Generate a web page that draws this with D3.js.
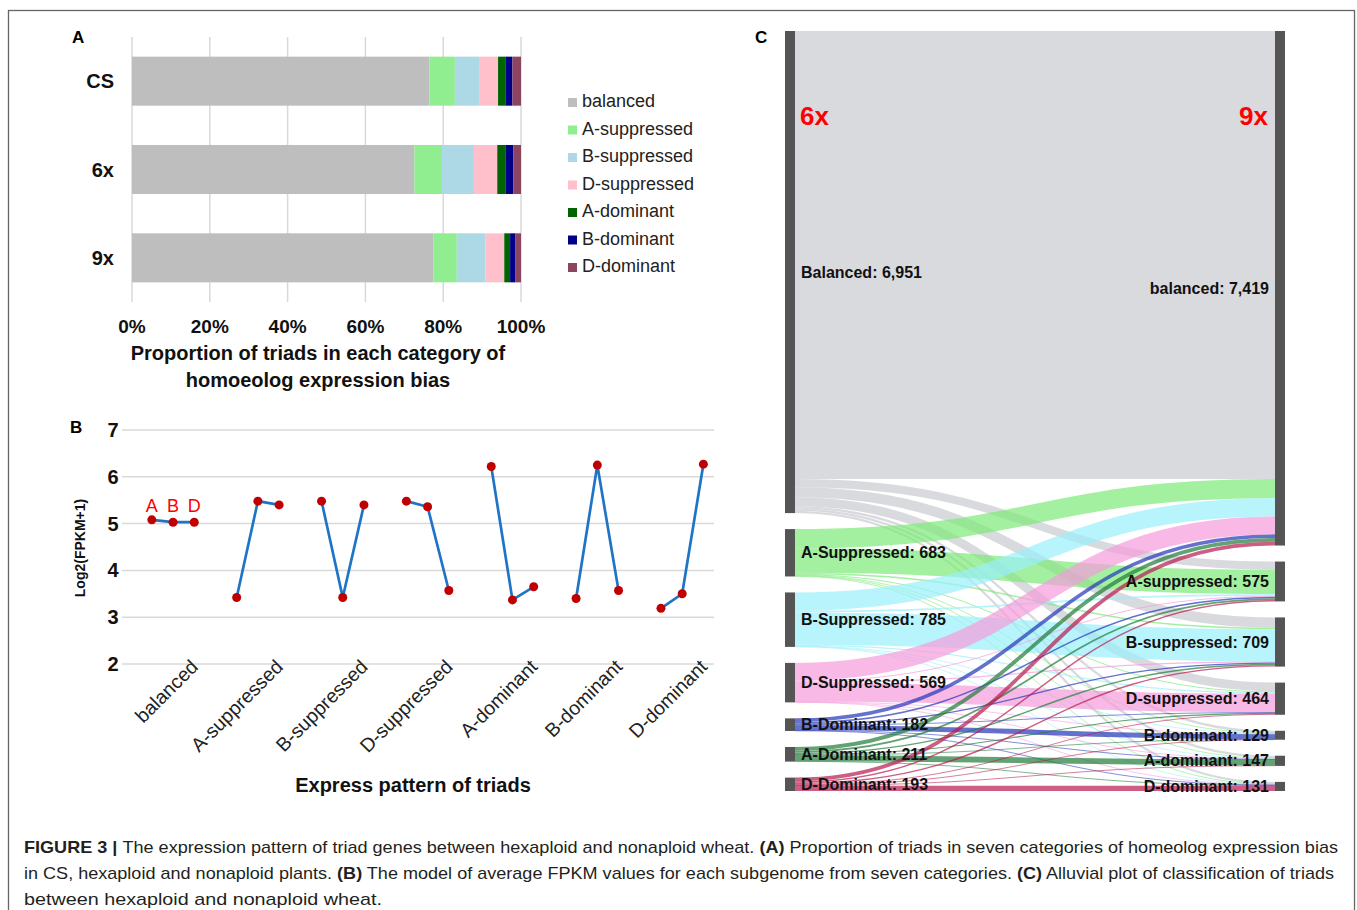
<!DOCTYPE html>
<html>
<head>
<meta charset="utf-8">
<script src="https://cdn.jsdelivr.net/npm/d3@7"></script>
<style>
  body { margin: 0; background: #fff; }
  svg { display: block; }
  text { font-family: "Liberation Sans", Arial, sans-serif; }
</style>
</head>
<body>
<div id="container"></div>
<script>
let w = 1357;
let h = 910;

// ---- panel A data ----
let plants = ["CS", "6x", "9x"];
let biasCats = ["balanced", "A-suppressed", "B-suppressed", "D-suppressed", "A-dominant", "B-dominant", "D-dominant"];
let biasColors = ["#bebebe", "#90ee90", "#add8e6", "#ffc0cb", "#006400", "#00008b", "#8b4560"];
let pctCS = [76.5, 6.5, 6.4, 4.7, 2.0, 1.7, 2.2];
let pct6x = [72.6, 7.1, 8.2, 6.0, 2.2, 1.9, 2.0];
let pct9x = [77.5, 6.0, 7.4, 4.8, 1.5, 1.4, 1.4];
let pctTicks = [0, 20, 40, 60, 80, 100];

// ---- panel B data ----
let patterns = ["balanced", "A-suppressed", "B-suppressed", "D-suppressed", "A-dominant", "B-dominant", "D-dominant"];
let subgenomes = ["A", "B", "D"];
let fpkmA = [5.08, 3.42, 5.48, 5.48, 6.22, 3.40, 3.19];
let fpkmB = [5.03, 5.48, 3.42, 5.36, 3.37, 6.25, 3.50];
let fpkmD = [5.03, 5.40, 5.40, 3.57, 3.65, 3.57, 6.27];
let fpkmTicks = [2, 3, 4, 5, 6, 7];

// ---- panel C data ----
let classes6x = ["Balanced", "A-Suppressed", "B-Suppressed", "D-Suppressed", "B-Dominant", "A-Dominant", "D-Dominant"];
let counts6x = [6951, 683, 785, 569, 182, 211, 193];
let classes9x = ["balanced", "A-suppressed", "B-suppressed", "D-suppressed", "B-dominant", "A-dominant", "D-dominant"];
let counts9x = [7419, 575, 709, 464, 129, 147, 131];
// flows from each 6x class to the 9x classes (same order as classes9x)
let fromBalanced = [6460, 118, 145, 128, 34, 34, 32];
let fromASup = [278, 350, 22, 14, 4, 11, 4];
let fromBSup = [262, 26, 465, 18, 8, 3, 3];
let fromDSup = [258, 14, 18, 268, 3, 4, 4];
let fromBDom = [52, 22, 18, 8, 72, 4, 6];
let fromADom = [55, 25, 20, 16, 4, 85, 6];
let fromDDom = [54, 20, 21, 12, 4, 6, 76];
let linkColors = ["#c9cad0", "#7ce977", "#9aeffb", "#f59bdb", "#2236b8", "#1f7a38", "#b8194f"];

let svg = d3.select("#container")
  .append("svg")
    .attr("width", w)
    .attr("height", h)
    .style("background-color", "white");

// figure frame
svg.append("rect")
  .attr("x", 8.5).attr("y", 10.5)
  .attr("width", 1346).attr("height", 920)
  .attr("fill", "none").attr("stroke", "#666").attr("stroke-width", 1.3);

// ================= PANEL A =================
let gA = svg.append("g");
let xA = d3.scaleLinear().domain([0, 100]).range([132, 521]);
let yA = d3.scaleBand().domain(plants).range([37, 302]).paddingInner(0.445).paddingOuter(0.2225);

gA.append("text").text("A").attr("x", 72).attr("y", 43)
  .style("font-size", "17px").style("font-weight", "bold");

gA.selectAll(".gridA").data(pctTicks).enter().append("line")
  .attr("x1", d => xA(d)).attr("x2", d => xA(d))
  .attr("y1", 37).attr("y2", 302)
  .attr("stroke", "#d9d9d9").attr("stroke-width", 1.5);

let pctRows = [pctCS, pct6x, pct9x];
plants.forEach(function(p, i){
  let row = pctRows[i];
  let cum = d3.cumsum(row);
  gA.selectAll(".seg" + i).data(row).enter().append("rect")
    .attr("x", (d, j) => xA(cum[j] - d))
    .attr("width", (d, j) => xA(cum[j]) - xA(cum[j] - d))
    .attr("y", yA(p))
    .attr("height", yA.bandwidth())
    .attr("fill", (d, j) => biasColors[j]);
});

gA.selectAll(".plantLab").data(plants).enter().append("text")
  .text(d => d)
  .attr("x", 114)
  .attr("y", d => yA(d) + yA.bandwidth() / 2 + 7)
  .attr("text-anchor", "end")
  .style("font-size", "20px").style("font-weight", "bold").attr("fill", "#111");

gA.selectAll(".pctLab").data(pctTicks).enter().append("text")
  .text(d => d + "%")
  .attr("x", d => xA(d)).attr("y", 333)
  .attr("text-anchor", "middle")
  .style("font-size", "19px").style("font-weight", "bold").attr("fill", "#111");

gA.append("text").text("Proportion of triads in each category of")
  .attr("x", 318).attr("y", 360).attr("text-anchor", "middle")
  .style("font-size", "20px").style("font-weight", "bold").attr("fill", "#111");
gA.append("text").text("homoeolog expression bias")
  .attr("x", 318).attr("y", 387).attr("text-anchor", "middle")
  .style("font-size", "20px").style("font-weight", "bold").attr("fill", "#111");

let legY = d3.scaleLinear().domain([0, 6]).range([107, 272]);
let leg = gA.selectAll(".leg").data(biasCats).enter().append("g")
  .attr("transform", (d, i) => "translate(568," + legY(i) + ")");
leg.append("rect").attr("x", 0).attr("y", -9).attr("width", 9).attr("height", 9)
  .attr("fill", (d, i) => biasColors[i]);
leg.append("text").text(d => d).attr("x", 14).attr("y", 0)
  .style("font-size", "18px").attr("fill", "#222");

// ================= PANEL B =================
let gB = svg.append("g");
let slots = d3.range(28);
let xB = d3.scaleBand().domain(slots).range([120, 714]);
let yB = d3.scaleLinear().domain([2, 7]).range([664, 430]);

function slotX(cat, k){
  return xB(cat * 4 + 1 + k) + xB.bandwidth() / 2;
}

gB.append("text").text("B").attr("x", 70).attr("y", 433)
  .style("font-size", "17px").style("font-weight", "bold");

gB.selectAll(".gridB").data(fpkmTicks).enter().append("line")
  .attr("x1", 122).attr("x2", 714)
  .attr("y1", d => yB(d)).attr("y2", d => yB(d))
  .attr("stroke", "#d9d9d9").attr("stroke-width", 1.5);

gB.selectAll(".yLabB").data(fpkmTicks).enter().append("text")
  .text(d => d)
  .attr("x", 113).attr("y", d => yB(d) + 7)
  .attr("text-anchor", "middle")
  .style("font-size", "20px").style("font-weight", "bold").attr("fill", "#111");

gB.append("text").text("Log2(FPKM+1)")
  .attr("transform", "translate(85,548) rotate(-90)")
  .attr("text-anchor", "middle")
  .style("font-size", "14px").style("font-weight", "bold").attr("fill", "#111");

let line = d3.line().x(d => d.x).y(d => d.y);
patterns.forEach(function(p, i){
  let vals = [fpkmA[i], fpkmB[i], fpkmD[i]];
  let pts = vals.map((v, k) => ({x: slotX(i, k), y: yB(v)}));
  gB.append("path").datum(pts)
    .attr("d", line)
    .attr("fill", "none").attr("stroke", "#1f74c6").attr("stroke-width", 2.7);
  gB.selectAll(".pt" + i).data(pts).enter().append("circle")
    .attr("cx", d => d.x).attr("cy", d => d.y).attr("r", 4.5)
    .attr("fill", "#c00000");
  gB.append("text").text(p)
    .attr("transform", "translate(" + (slotX(i, 2) + 5) + ",668) rotate(-45)")
    .attr("text-anchor", "end")
    .style("font-size", "19.5px").attr("fill", "#222");
});

gB.selectAll(".subLab").data(subgenomes).enter().append("text")
  .text(d => d)
  .attr("x", (d, k) => slotX(0, k)).attr("y", 512)
  .attr("text-anchor", "middle")
  .style("font-size", "18px").attr("fill", "#ff0000");

gB.append("text").text("Express pattern of triads")
  .attr("x", 413).attr("y", 792).attr("text-anchor", "middle")
  .style("font-size", "20px").style("font-weight", "bold").attr("fill", "#111");

// ================= PANEL C =================
let gC = svg.append("g");
let flows = [fromBalanced, fromASup, fromBSup, fromDSup, fromBDom, fromADom, fromDDom];
let nodeGap = 16;
let total = d3.sum(counts6x);
let hC = d3.scaleLinear().domain([0, total]).range([0, 760 - 6 * nodeGap]);

function stackNodes(counts){
  let y = 31;
  return counts.map(function(c){
    let n = {y0: y, y1: y + hC(c)};
    y = n.y1 + nodeGap;
    return n;
  });
}
let left = stackNodes(counts6x);
let right = stackNodes(counts9x);

let xL = 795, xR = 1275;
let links = [];
let srcOff = left.map(n => n.y0);
let tgtOff = right.map(n => n.y0);
flows.forEach(function(row, i){
  row.forEach(function(v, j){
    links.push({s: i, t: j, v: v});
  });
});
// source side ordered by target, target side ordered by source
links.forEach(function(l){
  let wd = hC(l.v);
  l.w = wd;
  l.sy = srcOff[l.s] + wd / 2; srcOff[l.s] += wd;
});
links.slice().sort((a, b) => a.t - b.t || a.s - b.s).forEach(function(l){
  l.ty = tgtOff[l.t] + l.w / 2; tgtOff[l.t] += l.w;
});

let linkGen = d3.linkHorizontal();
gC.selectAll(".flow").data(links).enter().append("path")
  .attr("d", d => linkGen({source: [xL, d.sy], target: [xR, d.ty]}))
  .attr("fill", "none")
  .attr("stroke", d => linkColors[d.s])
  .attr("stroke-opacity", 0.7)
  .attr("stroke-width", d => Math.max(d.w, 0.8));

gC.selectAll(".nodeL").data(left).enter().append("rect")
  .attr("x", 785).attr("width", 10)
  .attr("y", d => d.y0).attr("height", d => d.y1 - d.y0)
  .attr("fill", "#555");
gC.selectAll(".nodeR").data(right).enter().append("rect")
  .attr("x", 1275).attr("width", 10)
  .attr("y", d => d.y0).attr("height", d => d.y1 - d.y0)
  .attr("fill", "#555");

let fmt = d3.format(",");
gC.selectAll(".labL").data(left).enter().append("text")
  .text((d, i) => classes6x[i] + ": " + fmt(counts6x[i]))
  .attr("x", 801).attr("y", d => (d.y0 + d.y1) / 2).attr("dy", "0.35em")
  .style("font-size", "16px").style("font-weight", "bold").attr("fill", "#111");
gC.selectAll(".labR").data(right).enter().append("text")
  .text((d, i) => classes9x[i] + ": " + fmt(counts9x[i]))
  .attr("x", 1269).attr("y", d => (d.y0 + d.y1) / 2).attr("dy", "0.35em")
  .attr("text-anchor", "end")
  .style("font-size", "16px").style("font-weight", "bold").attr("fill", "#111");

gC.append("text").text("6x").attr("x", 800).attr("y", 125)
  .style("font-size", "26px").style("font-weight", "bold").attr("fill", "#ff0000");
gC.append("text").text("9x").attr("x", 1268).attr("y", 125).attr("text-anchor", "end")
  .style("font-size", "26px").style("font-weight", "bold").attr("fill", "#ff0000");

gC.append("text").text("C").attr("x", 755).attr("y", 43)
  .style("font-size", "17px").style("font-weight", "bold");

// ================= caption =================
let capLines = [
  [["FIGURE 3 | ", true], ["The expression pattern of triad genes between hexaploid and nonaploid wheat. ", false], ["(A)", true], [" Proportion of triads in seven categories of homeolog expression bias", false]],
  [["in CS, hexaploid and nonaploid plants. ", false], ["(B)", true], [" The model of average FPKM values for each subgenome from seven categories. ", false], ["(C)", true], [" Alluvial plot of classification of triads", false]],
  [["between hexaploid and nonaploid wheat.", false]]
];
let capWidths = [1314, 1310, 358];
capLines.forEach(function(parts, i){
  let t = svg.append("text")
    .attr("x", 24).attr("y", 853 + i * 26)
    .attr("textLength", capWidths[i])
    .attr("lengthAdjust", "spacingAndGlyphs")
    .style("font-family", "'Liberation Sans Narrow', 'Liberation Sans', Arial, sans-serif")
    .style("font-size", "17px").attr("fill", "#231f20");
  t.selectAll("tspan").data(parts).enter().append("tspan")
    .text(d => d[0])
    .style("font-weight", d => d[1] ? "bold" : "normal");
});
</script>
</body>
</html>
